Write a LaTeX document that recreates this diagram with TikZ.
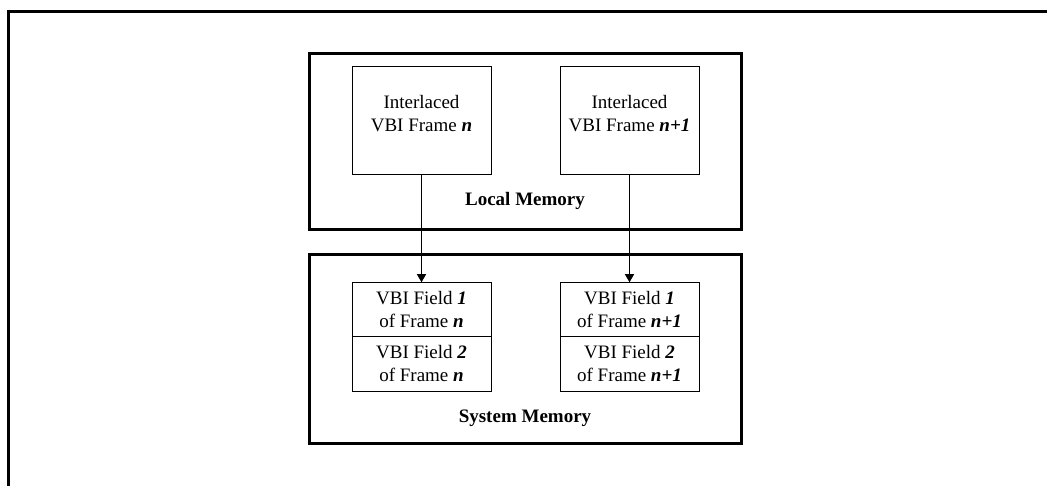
\documentclass[tikz,border=0pt]{standalone}
\usepackage{fontspec}
\setmainfont{Liberation Serif}
\usetikzlibrary{arrows.meta,positioning}
\newcommand{\bi}[1]{\textbf{\textit{#1}}}

\begin{document}
\begin{tikzpicture}[x=1pt,y=-1pt,>={Triangle[length=8pt,width=9pt]},semithick,
  font=\fontsize{19pt}{23pt}\selectfont]
\tikzstyle{memory}=[draw=black,line width=3pt,minimum width=432pt,inner sep=0pt]
\tikzstyle{framebox}=[draw=black,line width=1pt,minimum width=139pt,minimum height=108pt,inner sep=0pt]
\tikzstyle{fieldbox}=[draw=black,line width=1pt,minimum width=139pt,minimum height=54.5pt,inner sep=0pt,outer sep=0pt,align=center]

\useasboundingbox (0,0) rectangle (1047,486);

% Marco exterior
\draw[line width=3pt] (8,486) -- (8,12) -- (1047,12);

% Memorias
\node[memory,minimum height=176pt] (local) at (525,142) {};
\node[memory,minimum height=188pt] (system) at (525,349) {};
\node[font=\fontsize{19pt}{23pt}\selectfont\bfseries] (locallbl) at (525,201) {Local Memory};
\node[font=\fontsize{19pt}{23pt}\selectfont\bfseries] (systemlbl) at (525,418) {System Memory};

% Tramas entrelazadas
\node[framebox] (fn) at (421.5,121) {};
\node[framebox] (fm) at (629.5,121) {};
\node[align=center] (fnlbl) at ([yshift=7pt]fn.center) {Interlaced\\VBI Frame \bi{n}};
\node[align=center] (fmlbl) at ([yshift=7pt]fm.center) {Interlaced\\VBI Frame \bi{n+1}};

% Campos en memoria del sistema
\node[fieldbox] (f1n) at (421.5,309.5) {VBI Field \bi{1}\\of Frame \bi{n}};
\node[fieldbox,below=0pt of f1n] (f2n) {VBI Field \bi{2}\\of Frame \bi{n}};
\node[fieldbox] (f1m) at (629.5,309.5) {VBI Field \bi{1}\\of Frame \bi{n+1}};
\node[fieldbox,below=0pt of f1m] (f2m) {VBI Field \bi{2}\\of Frame \bi{n+1}};

% Conexiones
\path[->,line width=1.3pt]
(fn) edge (f1n)
(fm) edge (f1m);
\end{tikzpicture}
\end{document}
